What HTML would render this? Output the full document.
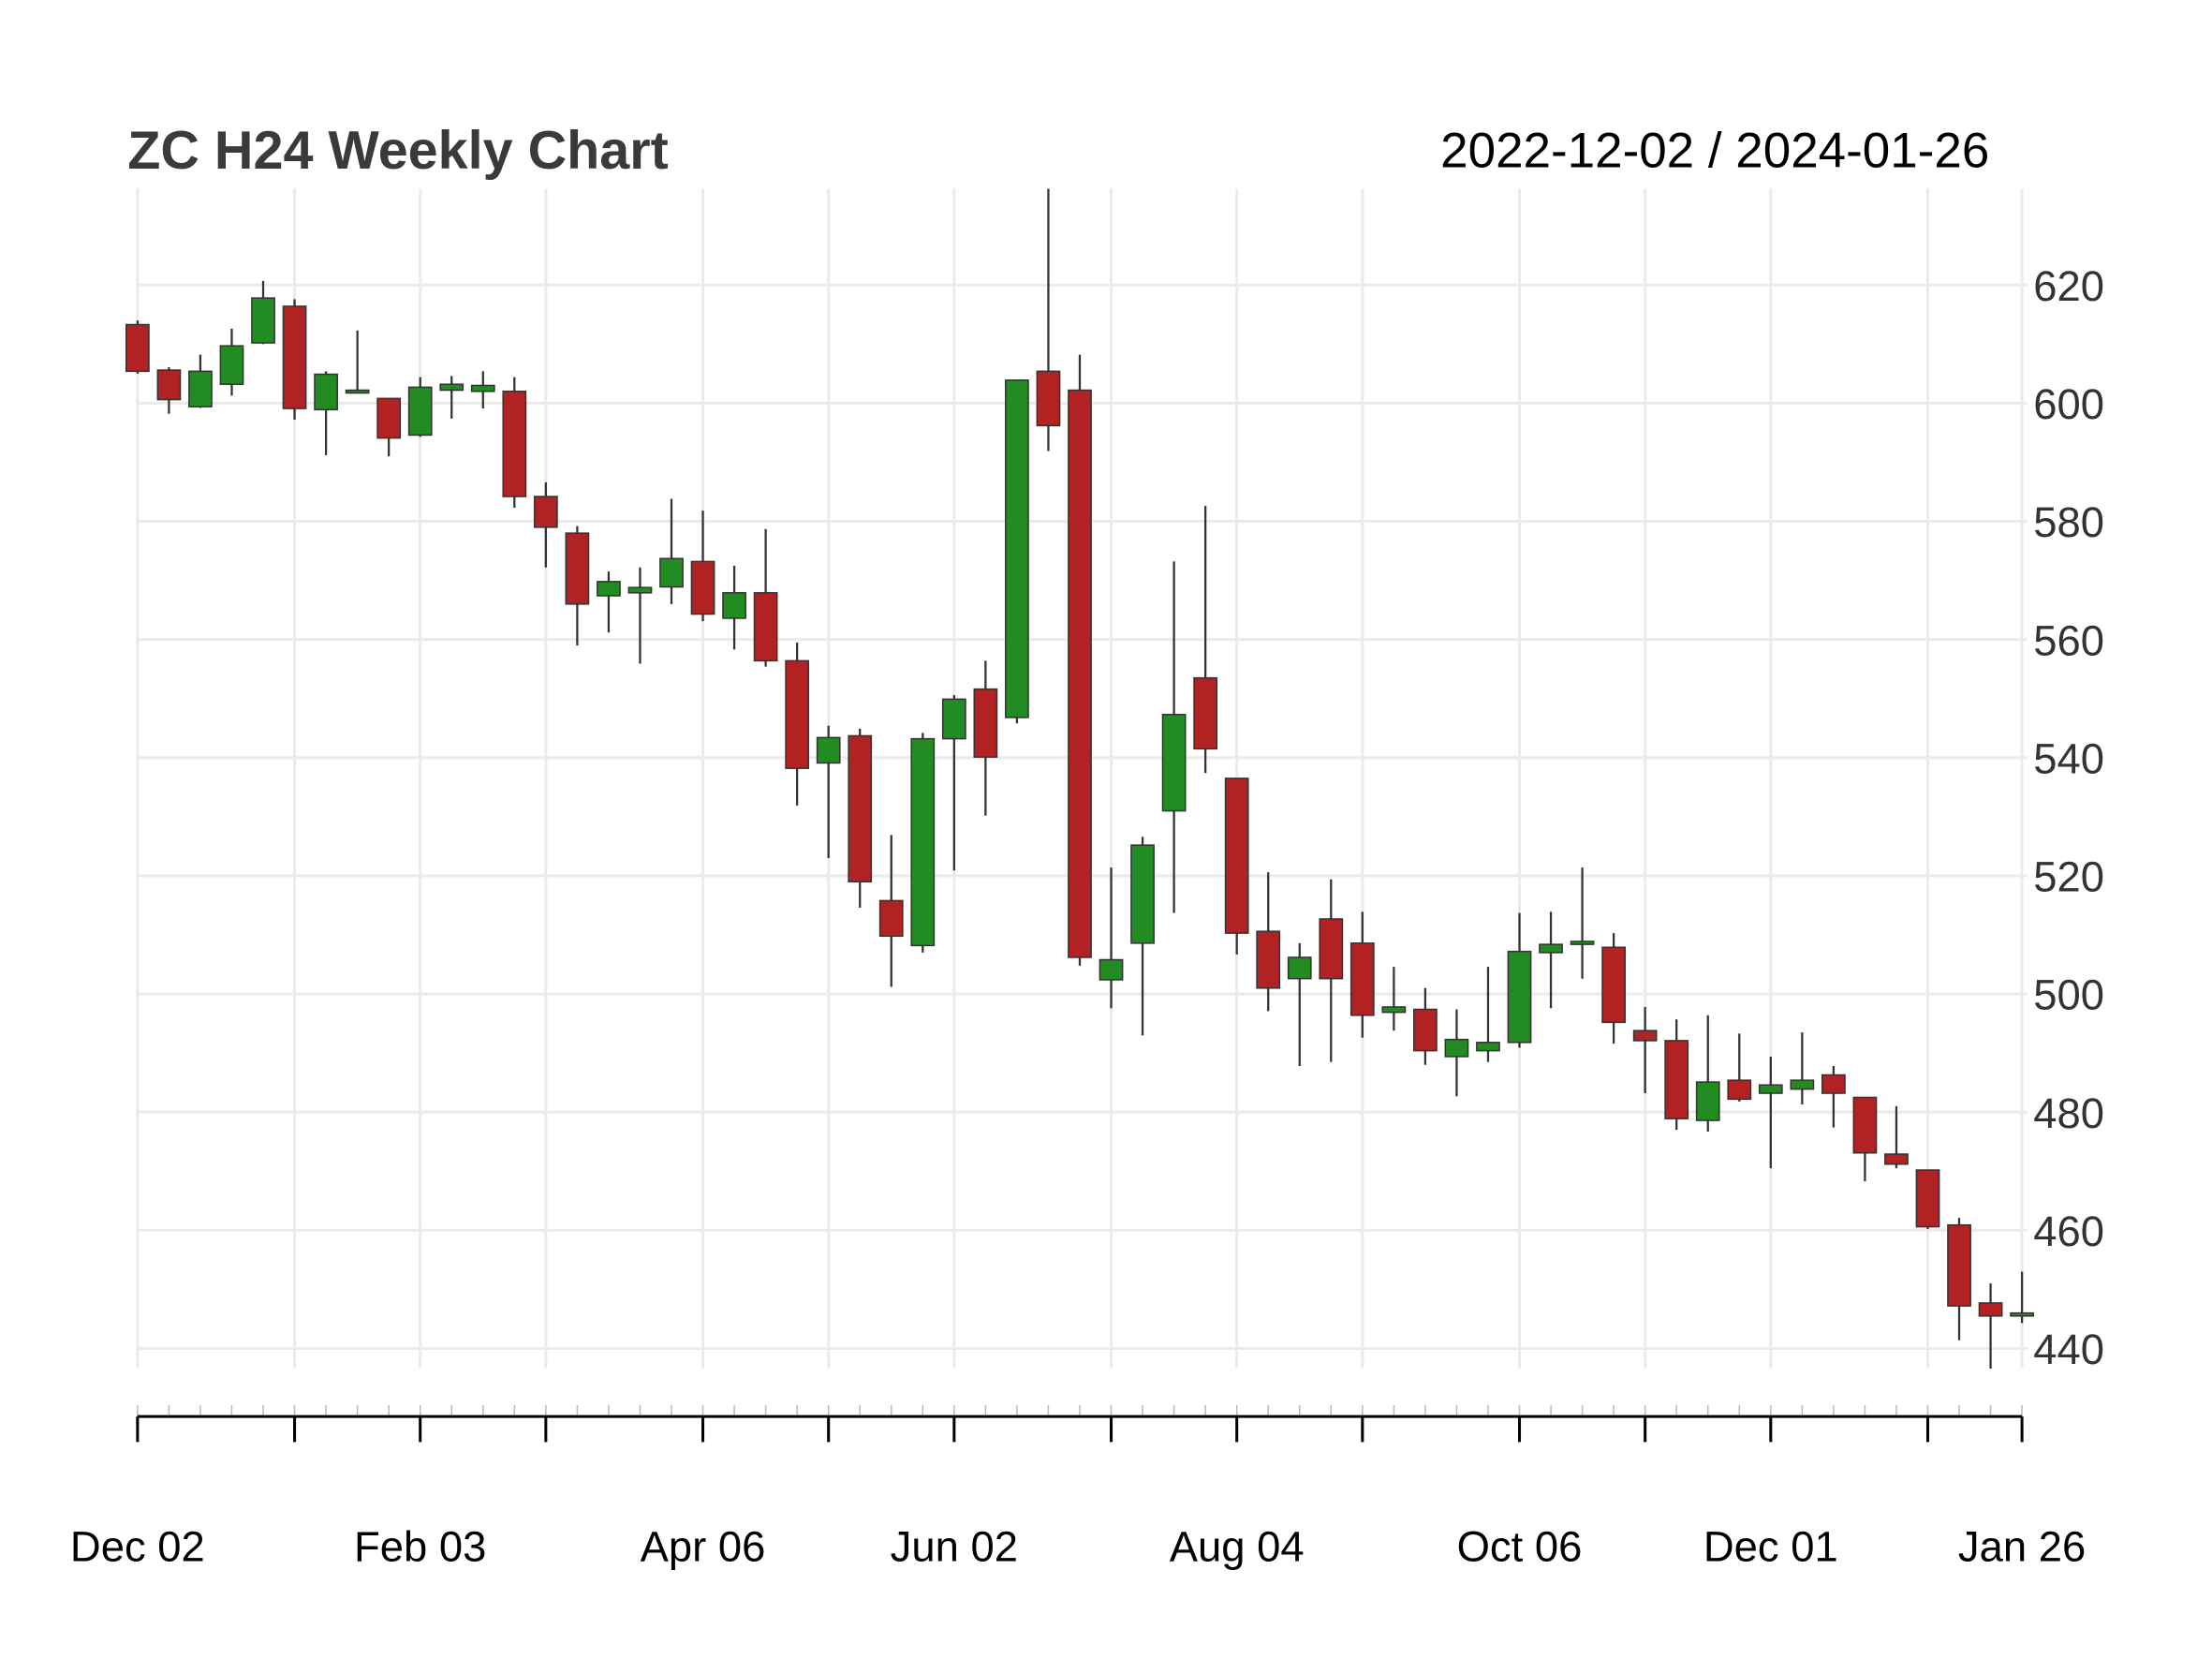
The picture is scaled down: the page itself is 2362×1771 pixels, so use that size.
<!DOCTYPE html>
<html><head><meta charset="utf-8"><style>
html,body{margin:0;padding:0;background:#fff;}
svg{display:block;font-family:"Liberation Sans",Arial,sans-serif;}
</style></head><body>
<svg id="chart" width="2362" height="1771" viewBox="0 0 1560 1170" preserveAspectRatio="none" xmlns="http://www.w3.org/2000/svg">
<rect width="1560" height="1170" fill="#fff"/>
<g id="grid"></g>
<g id="candles"></g>
<g id="axes"></g>
<text x="90" y="119" font-size="38" font-weight="bold" fill="#3a3a3a">ZC H24 Weekly Chart</text>
<text x="1403" y="118" font-size="35" fill="#000" text-anchor="end">2022-12-02 / 2024-01-26</text>
</svg>
<script>
const opens=[613.3,605.6,599.4,603.2,610.2,616.4,598.9,601.8,600.8,594.6,602.2,602,602,584.2,578,567.4,567.9,568.9,573.2,563.6,567.9,556.4,539.1,543.7,515.8,508.2,543.2,551.6,546.8,605.4,602.2,502.4,508.6,531,553.5,536.5,510.6,502.6,512.7,508.6,496.9,497.4,489.4,490.4,491.8,507,508.4,507.9,493.8,492.1,478.6,485.4,483.2,483.9,486.3,482.5,472.9,470.2,460.9,447.7,445.5];
const highs=[614,606.1,608.2,612.6,620.7,617.6,605.4,612.3,600.8,604.4,604.6,605.4,604.4,586.6,579.2,571.5,572.2,583.8,581.8,572.5,578.7,559.5,545.4,544.9,526.9,544.2,550.6,556.4,603.9,636.3,608.2,521.4,526.6,573.2,582.6,536.5,520.6,508.6,519.4,513.9,504.6,501,497.4,504.6,513.7,513.9,521.4,510.3,497.8,495.7,496.4,493.3,489.4,493.5,487.8,482.5,481,470.2,462.1,451,453];
const lows=[605,598.2,599.2,601.3,610,597.2,591.2,601.8,591,594.3,597.4,599.1,582.3,572.2,559,561.2,555.9,566,563.1,558.3,555.4,531.9,523,514.6,501.2,507,520.9,530.2,545.8,591.9,504.8,497.6,493,513.7,537.4,506.7,497.1,487.8,488.5,492.6,493.8,488,482.7,488.5,490.9,497.6,502.6,491.6,483.2,477,476.7,481.8,470.5,481.3,477.4,468.3,470.5,460.2,441.4,436.6,444.3];
const closes=[605.4,600.6,605.4,609.7,617.8,599.1,604.9,602.2,594.1,602.7,603.2,603,584.2,579,566,569.8,568.8,573.7,564.3,567.9,556.4,538.2,543.4,519,509.8,543.2,549.9,540.1,603.9,596.2,506.2,505.8,525.2,547.3,541.5,510.3,501,506.2,502.6,496.4,497.8,490.4,492.3,491.8,507.2,508.4,508.9,495.2,492.1,478.9,485.1,482.2,484.6,485.4,483.2,473.1,471.2,460.6,447.2,445.5,446];
const yTicks=[440,460,480,500,520,540,560,580,600,620];
const monthIdx=[0,5,9,13,18,22,26,31,35,39,44,48,52,57,60];
const xLabelIdx=[0,9,18,26,35,44,52,60];
const xLabels=["Dec 02","Feb 03","Apr 06","Jun 02","Aug 04","Oct 06","Dec 01","Jan 26"];

const NS="http://www.w3.org/2000/svg";
const X0=97,X1=1426,PT=133,PB=965;
const n=opens.length;
function xs(i){return X0+(X1-X0)*i/(n-1);}
function ys(v){return 951-(v-440)*750/180;}
function mk(tag,attrs,parent){const e=document.createElementNS(NS,tag);for(const k in attrs)e.setAttribute(k,attrs[k]);parent.appendChild(e);return e;}
const grid=document.getElementById('grid'),cg=document.getElementById('candles'),ax=document.getElementById('axes');
yTicks.forEach(v=>{
  const l=mk('line',{x1:X0,x2:X1+4,y1:ys(v),y2:ys(v),stroke:'#ebebeb','stroke-width':2},grid);
  
  
  const t=mk('text',{x:1434,y:ys(v)+11,'font-size':30,fill:'#333'},ax);
  t.textContent=v;
  
  
});
monthIdx.forEach(i=>{
  const l=mk('line',{x1:xs(i),x2:xs(i),y1:PT,y2:PB,stroke:'#ebebeb','stroke-width':2},grid);
  
  
  const tk=mk('line',{x1:xs(i),x2:xs(i),y1:999,y2:1017,stroke:'#000','stroke-width':2},ax);
  
  
});
for(let i=0;i<n;i++){
  const tk=mk('line',{x1:xs(i),x2:xs(i),y1:991,y2:999,stroke:'#bbb','stroke-width':1},ax);
  
  
}
const axl=mk('line',{x1:X0,x2:X1,y1:999,y2:999,stroke:'#000','stroke-width':2},ax);


xLabelIdx.forEach((i,k)=>{
  const t=mk('text',{x:xs(i),y:1101,'font-size':30,fill:'#000','text-anchor':'middle'},ax);
  t.textContent=xLabels[k];
  
  
});
for(let i=0;i<n;i++){
  const x=xs(i),up=closes[i]>=opens[i];
  const g=mk('g',{},cg);
  
  
  mk('line',{x1:x,x2:x,y1:ys(highs[i]),y2:ys(lows[i]),stroke:'#333','stroke-width':1.5},g);
  const top=ys(Math.max(opens[i],closes[i])),bot=ys(Math.min(opens[i],closes[i]));
  mk('rect',{x:x-8,y:top,width:16,height:Math.max(bot-top,2),fill:up?'#228B22':'#B22222',stroke:'#333','stroke-width':1},g);
}
</script>
</body></html>
